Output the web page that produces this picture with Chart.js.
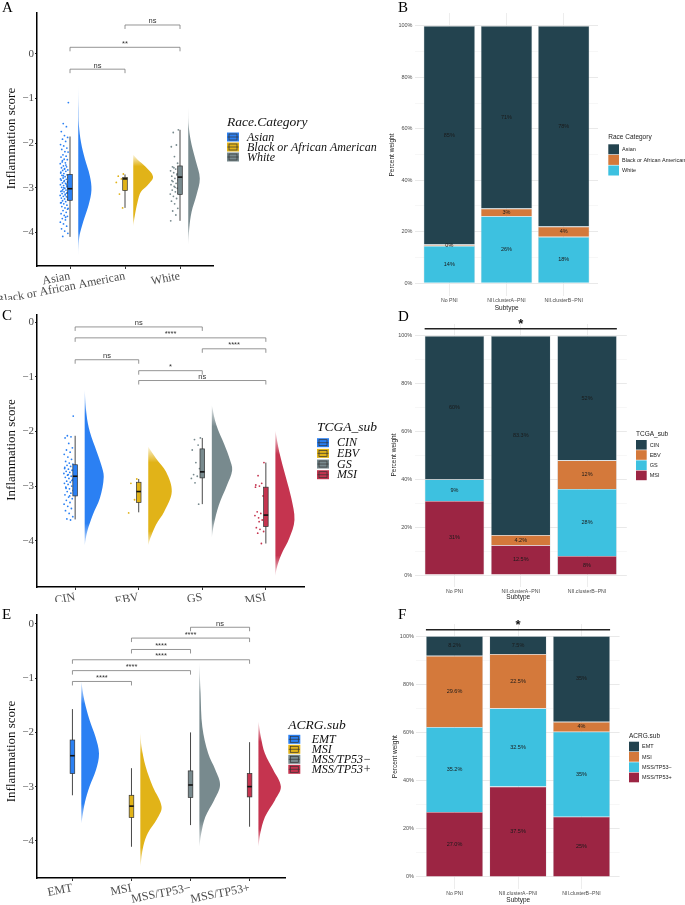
<!DOCTYPE html>
<html>
<head>
<meta charset="utf-8">
<script src="https://cdn.jsdelivr.net/npm/chart.js@4.4.0/dist/chart.umd.min.js"></script>
<style>
  body { margin: 0; background: #fff; }
  #wrap { position: relative; width: 685px; height: 905px; overflow: hidden; background: #fff; }
  canvas { position: absolute; }
</style>
</head>
<body>
<div id="wrap">
  <canvas id="chartA" width="400" height="300" style="left:0px;top:0px"></canvas>
  <canvas id="chartC" width="400" height="302" style="left:0px;top:300px"></canvas>
  <canvas id="chartE" width="400" height="305" style="left:0px;top:600px"></canvas>
  <canvas id="chartB" width="340" height="315" style="left:345px;top:0px"></canvas>
  <canvas id="chartD" width="340" height="305" style="left:345px;top:300px"></canvas>
  <canvas id="chartF" width="340" height="305" style="left:345px;top:600px"></canvas>
</div>
<script>
const SERIF = "'Liberation Serif', 'Times New Roman', serif";
const SANS = "'Liberation Sans', Arial, sans-serif";

const scoreTicks = [0, -1, -2, -3, -4];
const pctTicks = [0, 10, 20, 30, 40, 50, 60, 70, 80, 90, 100];

// A: inflammation score by race
const raceGroups = ['Asian', 'Black or African American', 'White'];
// min, q1, median, q3, max
const raceBox = [
  [-4.10, -3.28, -3.02, -2.70, -1.85],
  [-3.45, -3.06, -2.80, -2.77, -2.70],
  [-3.74, -3.15, -2.76, -2.51, -1.70]
];
// [score, half-violin width]
const raceViolins = [
  [[-0.70, 0], [-1.2, 0.005], [-1.6, 0.012], [-1.98, 0.05], [-2.35, 0.12], [-2.73, 0.21], [-3.05, 0.24], [-3.38, 0.19], [-3.76, 0.09], [-4.06, 0.025], [-4.3, 0.006], [-4.51, 0]],
  [[-2.26, 0], [-2.37, 0.08], [-2.52, 0.22], [-2.75, 0.36], [-2.94, 0.26], [-3.09, 0.14], [-3.31, 0.08], [-3.61, 0.03], [-3.86, 0]],
  [[-1.17, 0], [-1.66, 0.012], [-2.03, 0.06], [-2.41, 0.14], [-2.79, 0.21], [-3.16, 0.15], [-3.54, 0.06], [-3.91, 0.018], [-4.28, 0]]
];
const racePoints = [
  [-1.09, -1.56, -1.63, -1.74, -1.83, -1.87, -1.91, -1.96, -2.03, -2.06, -2.11, -2.14, -2.19, -2.2, -2.26, -2.29, -2.31, -2.36, -2.37, -2.42,
   -2.44, -2.46, -2.51, -2.53, -2.55, -2.57, -2.6, -2.61, -2.63, -2.67, -2.68, -2.71, -2.72, -2.75, -2.77, -2.78, -2.81, -2.83, -2.84, -2.87,
   -2.89, -2.9, -2.93, -2.95, -2.96, -2.99, -3.01, -3.02, -3.04, -3.05, -3.08, -3.09, -3.11, -3.13, -3.14, -3.17, -3.19, -3.2, -3.23, -3.25,
   -3.27, -3.29, -3.31, -3.34, -3.36, -3.39, -3.42, -3.45, -3.46, -3.51, -3.55, -3.58, -3.62, -3.64, -3.69, -3.72, -3.77, -3.81, -3.86, -3.92,
   -3.97, -4.02, -4.09, -2.49, -2.65, -2.86, -2.98, -3.07, -3.16, -3.22, -2.73, -2.92, -3.33, -2.58, -3.48, -2.39, -3.66, -2.8, -3.0, -3.12],
  [-2.69, -2.74, -2.80, -2.88, -3.14, -3.45],
  [-1.70, -1.76, -2.04, -2.08, -2.30, -2.45, -2.53, -2.58, -2.62, -2.66, -2.71, -2.74, -2.79, -2.82, -2.86, -2.90, -2.93, -2.97, -3.01, -3.05,
   -3.09, -3.14, -3.19, -3.24, -3.30, -3.36, -3.46, -3.52, -3.61, -3.74, -2.55, -2.69, -2.84, -2.99, -3.12]
];
// [group a, group b, bracket level, label]
const raceSig = [[1, 2, -0.34, 'ns'], [1, 3, 0.15, '**'], [2, 3, 0.65, 'ns']];

// C: inflammation score by TCGA subtype
const tcgaGroups = ['CIN', 'EBV', 'GS', 'MSI'];
const tcgaBox = [
  [-3.61, -3.18, -2.82, -2.61, -2.08],
  [-3.48, -3.30, -3.10, -2.93, -2.87],
  [-3.33, -2.85, -2.74, -2.32, -2.12],
  [-4.05, -3.74, -3.53, -3.02, -2.57]
];
const tcgaViolins = [
  [[-1.24, 0], [-1.7, 0.03], [-2.0, 0.08], [-2.37, 0.19], [-2.61, 0.26], [-2.83, 0.30], [-3.22, 0.24], [-3.52, 0.13], [-3.83, 0.04], [-4.08, 0]],
  [[-2.28, 0], [-2.49, 0.12], [-2.74, 0.28], [-3.10, 0.37], [-3.47, 0.25], [-3.71, 0.12], [-3.96, 0.03], [-4.08, 0]],
  [[-1.52, 0], [-1.88, 0.07], [-2.25, 0.20], [-2.5, 0.28], [-2.71, 0.32], [-2.98, 0.24], [-3.35, 0.11], [-3.71, 0.03], [-3.94, 0]],
  [[-1.99, 0], [-2.37, 0.06], [-2.86, 0.17], [-3.22, 0.25], [-3.62, 0.30], [-3.95, 0.22], [-4.26, 0.09], [-4.5, 0.02], [-4.64, 0]]
];
const tcgaPoints = [
  [-1.72, -2.08, -2.1, -2.12, -2.22, -2.3, -2.34, -2.38, -2.42, -2.47, -2.51, -2.55, -2.58, -2.6, -2.62, -2.64, -2.66, -2.69, -2.71, -2.73,
   -2.75, -2.77, -2.8, -2.82, -2.84, -2.86, -2.88, -2.91, -2.93, -2.95, -2.97, -3.0, -3.02, -3.05, -3.08, -3.1, -3.13, -3.16, -3.2, -3.23,
   -3.26, -3.3, -3.33, -3.37, -3.41, -3.45, -3.5, -3.56, -3.6, -3.62, -2.68, -2.79, -2.9, -3.04, -3.18],
  [-2.87, -2.95, -3.25, -3.49],
  [-2.12, -2.15, -2.25, -2.34, -2.57, -2.68, -2.79, -2.82, -2.86, -2.94, -3.33],
  [-2.57, -2.81, -2.95, -2.98, -3.0, -3.18, -3.47, -3.5, -3.54, -3.58, -3.62, -3.76, -3.79, -3.83, -3.86, -4.05, -3.02, -3.65]
];
const tcgaSig = [[1, 3, -0.09, 'ns'], [1, 4, -0.29, '****'], [3, 4, -0.49, '****'], [1, 2, -0.69, 'ns'], [2, 3, -0.89, '*'], [2, 4, -1.07, 'ns']];

// E: inflammation score by ACRG subtype
const acrgGroups = ['EMT', 'MSI', 'MSS/TP53\u2212', 'MSS/TP53+'];
const acrgBox = [
  [-3.16, -2.76, -2.43, -2.14, -1.57],
  [-4.11, -3.57, -3.36, -3.16, -2.66],
  [-3.71, -3.20, -2.97, -2.71, -2.00],
  [-3.74, -3.19, -3.00, -2.76, -2.18]
];
const acrgViolins = [
  [[-1.06, 0], [-1.40, 0.05], [-1.77, 0.14], [-2.08, 0.24], [-2.39, 0.30], [-2.69, 0.25], [-3.0, 0.14], [-3.3, 0.06], [-3.55, 0.02], [-3.68, 0]],
  [[-2.0, 0], [-2.26, 0.02], [-2.63, 0.09], [-3.0, 0.21], [-3.37, 0.36], [-3.6, 0.28], [-3.85, 0.13], [-4.1, 0.05], [-4.47, 0]],
  [[-0.71, 0], [-1.28, 0.02], [-1.9, 0.05], [-2.39, 0.15], [-2.69, 0.27], [-2.97, 0.35], [-3.25, 0.25], [-3.56, 0.10], [-3.87, 0.03], [-4.11, 0]],
  [[-1.80, 0], [-2.08, 0.04], [-2.39, 0.11], [-2.69, 0.25], [-3.0, 0.38], [-3.25, 0.28], [-3.56, 0.11], [-3.87, 0.03], [-4.11, 0]]
];
const acrgSig = [[3, 4, -0.06, 'ns'], [2, 4, -0.26, '****'], [2, 3, -0.47, '****'], [1, 4, -0.66, '****'], [1, 3, -0.86, '****'], [1, 2, -1.06, '****']];

// B, D, F: percent of each subtype
const subtypes = ['No PNI', 'NII.clusterA\u2212PNI', 'NII.clusterB\u2212PNI'];
const raceCats = ['Asian', 'Black or African American', 'White'];
const raceShare = [[85, 71, 78], [0.5, 3, 4], [14.5, 26, 18]];
const raceShareText = [['85%', '71%', '78%'], ['0%', '3%', '4%'], ['14%', '26%', '18%']];

const tcgaCats = ['CIN', 'EBV', 'GS', 'MSI'];
const tcgaShare = [[60, 83.3, 52], [0, 4.2, 12], [9, 0, 28], [31, 12.5, 8]];
const tcgaShareText = [['60%', '83.3%', '52%'], ['', '4.2%', '12%'], ['9%', '', '28%'], ['31%', '12.5%', '8%']];
const tcgaOverall = [103, '*'];

const acrgCats = ['EMT', 'MSI', 'MSS/TP53\u2212', 'MSS/TP53+'];
const acrgShare = [[8.2, 7.5, 35.6], [29.6, 22.5, 4.1], [35.2, 32.5, 35.3], [27.0, 37.5, 25]];
const acrgShareText = [['8.2%', '7.5%', '35%'], ['29.6%', '22.5%', '4%'], ['35.2%', '32.5%', '35%'], ['27.0%', '37.5%', '25%']];
const acrgOverall = [102.6, '*'];

const rainColors = ['#2B80F3', '#E1B318', '#788A8E', '#C5344F'];
const barColors = ['#23434F', '#D4793B', '#3DC1E0', '#9C2543'];

function fade(hex, a) {
  const n = parseInt(hex.slice(1), 16);
  return 'rgba(' + (n >> 16) + ',' + ((n >> 8) & 255) + ',' + (n & 255) + ',' + a + ')';
}

// ---------- small drawing plugins ----------
function textPlugin(items) {
  return {
    id: 'texts',
    afterDraw(chart) {
      const ctx = chart.ctx;
      items.forEach(d => {
        ctx.save();
        ctx.font = d.font;
        ctx.fillStyle = d.color || '#000';
        ctx.textAlign = d.align || 'left';
        ctx.textBaseline = d.base || 'middle';
        ctx.translate(d.x, d.y);
        if (d.rot) ctx.rotate(d.rot);
        ctx.fillText(d.text, 0, 0);
        ctx.restore();
      });
    }
  };
}

function boxPlugin(stats, colors) {
  return {
    id: 'boxes',
    afterDatasetsDraw(chart) {
      const { ctx, scales: { x, y } } = chart;
      stats.forEach((s, i) => {
        const cx = x.getPixelForValue(i + 1);
        const top = y.getPixelForValue(s[3]);
        const bot = y.getPixelForValue(s[1]);
        ctx.save();
        ctx.strokeStyle = '#333';
        ctx.lineWidth = 0.9;
        ctx.beginPath();
        ctx.moveTo(cx, y.getPixelForValue(s[4]));
        ctx.lineTo(cx, y.getPixelForValue(s[0]));
        ctx.stroke();
        ctx.fillStyle = colors[i];
        ctx.fillRect(cx - 2.3, top, 4.6, bot - top);
        ctx.lineWidth = 0.7;
        ctx.strokeRect(cx - 2.3, top, 4.6, bot - top);
        ctx.strokeStyle = '#111';
        ctx.lineWidth = 1.6;
        const m = y.getPixelForValue(s[2]);
        ctx.beginPath();
        ctx.moveTo(cx - 2.3, m);
        ctx.lineTo(cx + 2.3, m);
        ctx.stroke();
        ctx.restore();
      });
    }
  };
}

function bracketPlugin(list) {
  return {
    id: 'brackets',
    afterDatasetsDraw(chart) {
      const { ctx, scales: { x, y } } = chart;
      list.forEach(([a, b, lv, lab]) => {
        const x1 = x.getPixelForValue(a), x2 = x.getPixelForValue(b), yy = y.getPixelForValue(lv);
        ctx.save();
        ctx.strokeStyle = '#7a7a7a';
        ctx.lineWidth = 0.8;
        ctx.beginPath();
        ctx.moveTo(x1, yy + 4);
        ctx.lineTo(x1, yy);
        ctx.lineTo(x2, yy);
        ctx.lineTo(x2, yy + 4);
        ctx.stroke();
        ctx.fillStyle = '#333';
        ctx.font = '7.5px ' + SANS;
        ctx.textAlign = 'center';
        ctx.textBaseline = 'alphabetic';
        ctx.fillText(lab, (x1 + x2) / 2, yy - 1.5);
        ctx.restore();
      });
    }
  };
}

function boxLegendPlugin(title, labels, colors, L) {
  return {
    id: 'boxLegend',
    afterDraw(chart) {
      const ctx = chart.ctx;
      ctx.save();
      ctx.fillStyle = '#111';
      ctx.textBaseline = 'middle';
      ctx.font = 'italic 13.5px ' + SERIF;
      ctx.fillText(title, L.x, L.titleY);
      ctx.font = 'italic 12px ' + SERIF;
      labels.forEach((lab, i) => {
        const cy = L.y + i * L.step;
        ctx.fillStyle = colors[i];
        ctx.fillRect(L.x, cy - 4.5, L.w, 9);
        ctx.strokeStyle = '#333';
        ctx.lineWidth = 0.7;
        ctx.strokeRect(L.x + 2, cy - 3, L.w - 4, 6);
        ctx.beginPath();
        ctx.moveTo(L.x + 0.5, cy);
        ctx.lineTo(L.x + L.w - 0.5, cy);
        ctx.stroke();
        ctx.fillStyle = '#111';
        ctx.fillText(lab, L.tx, cy + 0.5);
      });
      ctx.restore();
    }
  };
}

function squareLegendPlugin(title, labels, L) {
  return {
    id: 'sqLegend',
    afterDraw(chart) {
      const ctx = chart.ctx;
      ctx.save();
      ctx.textBaseline = 'middle';
      ctx.fillStyle = '#222';
      ctx.font = '6.5px ' + SANS;
      ctx.fillText(title, L.x, L.titleY);
      ctx.font = '5.5px ' + SANS;
      labels.forEach((lab, i) => {
        const top = L.y + i * L.step;
        ctx.fillStyle = barColors[i];
        ctx.fillRect(L.x, top, L.w, L.step - 0.6);
        ctx.fillStyle = '#222';
        ctx.fillText(lab, L.x + L.w + 3, top + L.step / 2);
      });
      ctx.restore();
    }
  };
}

function segLabelPlugin(text) {
  return {
    id: 'segLabels',
    afterDatasetsDraw(chart) {
      const ctx = chart.ctx;
      const n = text.length;
      ctx.save();
      ctx.fillStyle = '#1a1a1a';
      ctx.font = '5.5px ' + SANS;
      ctx.textAlign = 'center';
      ctx.textBaseline = 'middle';
      chart.data.datasets.forEach((ds, di) => {
        const k = n - 1 - di;
        chart.getDatasetMeta(di).data.forEach((bar, j) => {
          const t = text[k][j];
          if (t) ctx.fillText(t, bar.x, (bar.y + bar.base) / 2);
        });
      });
      ctx.restore();
    }
  };
}

function overallPlugin(sig) {
  return {
    id: 'overall',
    afterDraw(chart) {
      const { ctx, scales: { x, y } } = chart;
      const yy = y.getPixelForValue(sig[0]);
      ctx.save();
      ctx.strokeStyle = '#222';
      ctx.lineWidth = 1.4;
      ctx.beginPath();
      ctx.moveTo(x.getPixelForValue(0.55), yy);
      ctx.lineTo(x.getPixelForValue(3.45), yy);
      ctx.stroke();
      ctx.fillStyle = '#111';
      ctx.font = 'bold 13px ' + SANS;
      ctx.textAlign = 'center';
      ctx.textBaseline = 'alphabetic';
      ctx.fillText(sig[1], x.getPixelForValue(2), yy - 1);
      ctx.restore();
    }
  };
}

// ---------- raincloud panels ----------
function scoreChart(id, groups, box, violins, points, sig, P) {
  const datasets = [];
  violins.forEach((v, i) => {
    const col = rainColors[i];
    datasets.push({
      type: 'line',
      data: v.map(p => ({ x: i + 1 + 0.15 + p[1], y: p[0] })),
      fill: 'shape',
      // tails of the half violin fade out like the original
      backgroundColor: c => {
        const ch = c.chart;
        if (!ch.chartArea || !ch.scales.y) return col;
        const y0 = ch.scales.y.getPixelForValue(v[0][0]);
        const y1 = ch.scales.y.getPixelForValue(v[v.length - 1][0]);
        const g = ch.ctx.createLinearGradient(0, y0, 0, y1);
        g.addColorStop(0, fade(col, 0.15));
        g.addColorStop(0.16, col);
        g.addColorStop(0.86, col);
        g.addColorStop(1, fade(col, 0.2));
        return g;
      },
      borderColor: 'rgba(0,0,0,0)',
      borderWidth: 0.1,
      pointRadius: 0,
      tension: 0.35
    });
  });
  points.forEach((pts, i) => {
    datasets.push({
      type: 'scatter',
      data: pts.map((v, k) => ({ x: i + 1 - 0.03 - 0.15 * ((k * 0.618034) % 1), y: v })),
      backgroundColor: rainColors[i],
      borderWidth: 0,
      pointRadius: 0.9
    });
  });
  const plugins = [
    boxPlugin(box, rainColors),
    bracketPlugin(sig),
    boxLegendPlugin(P.legendTitle, groups, rainColors, P.legend),
    textPlugin([
      { text: P.letter, x: 2, y: P.letterY, font: '15px ' + SERIF, base: 'alphabetic' },
      { text: 'Inflammation score', x: 12, y: P.titleY, font: '13px ' + SERIF, align: 'center', rot: -Math.PI / 2, color: '#111' }
    ])
  ];
  return new Chart(document.getElementById(id), {
    type: 'scatter',
    data: { datasets },
    plugins,
    options: {
      responsive: false,
      animation: false,
      layout: { padding: { left: 0, top: P.top, right: P.right, bottom: 0 } },
      plugins: { legend: { display: false }, tooltip: { enabled: false } },
      scales: {
        x: {
          type: 'linear', min: 0.4, max: groups.length + 0.6, offset: false,
          afterBuildTicks: s => { s.ticks = groups.map((g, i) => ({ value: i + 1 })); },
          afterFit: s => { s.height = P.xh; },
          ticks: {
            callback: v => groups[v - 1],
            font: { family: SERIF, size: 12 }, color: '#4d4d4d',
            minRotation: 11, maxRotation: 11, autoSkip: false, padding: 0
          },
          grid: { drawOnChartArea: false, color: '#333', tickLength: 3 },
          border: { color: '#000', width: 1.5 }
        },
        y: {
          type: 'linear', min: P.yMin, max: P.yMax,
          afterBuildTicks: s => { s.ticks = scoreTicks.map(v => ({ value: v })); },
          afterFit: s => { s.width = 37; },
          ticks: {
            callback: v => String(v).replace('-', '\u2212'),
            font: { family: SERIF, size: 11 }, color: '#4d4d4d', padding: 1
          },
          grid: { drawOnChartArea: false, color: '#333', tickLength: 2 },
          border: { color: '#000', width: 1.5 }
        }
      }
    }
  });
}

// ---------- stacked percent panels ----------
function shareChart(id, cats, share, text, P, overall) {
  const datasets = cats.map((c, k) => ({
    label: c,
    data: share[k].map((v, j) => ({ x: j + 1, y: v })),
    backgroundColor: barColors[k],
    borderColor: 'rgba(205,212,215,0.9)',
    borderWidth: 0.6,
    barPercentage: 0.9,
    categoryPercentage: 1
  })).reverse();
  const plugins = [
    segLabelPlugin(text),
    squareLegendPlugin(P.legendTitle, cats, P.legend),
    textPlugin([
      { text: P.letter, x: 53, y: P.letterY, font: '15px ' + SERIF, base: 'alphabetic' },
      { text: 'Percent weight', x: P.yTitleX, y: P.yTitleY, font: '6.5px ' + SANS, align: 'center', rot: -Math.PI / 2, color: '#222' },
      { text: 'Subtype', x: P.xTitleX, y: P.xTitleY, font: '6.5px ' + SANS, align: 'center', color: '#222' }
    ])
  ];
  if (overall) plugins.push(overallPlugin(overall));
  return new Chart(document.getElementById(id), {
    type: 'bar',
    data: { datasets },
    plugins,
    options: {
      responsive: false,
      animation: false,
      layout: { padding: { left: 0, top: P.top, right: P.right, bottom: 0 } },
      plugins: { legend: { display: false }, tooltip: { enabled: false } },
      scales: {
        x: {
          type: 'linear', stacked: true, min: 0.4, max: 3.6, offset: false,
          afterBuildTicks: s => { s.ticks = subtypes.map((t, j) => ({ value: j + 1 })); },
          afterFit: s => { s.height = P.xh; },
          ticks: {
            callback: v => subtypes[v - 1],
            font: { family: SANS, size: 5.2 }, color: '#4d4d4d',
            padding: 1.5, minRotation: 0, maxRotation: 0, autoSkip: false
          },
          grid: { color: '#ebebeb', lineWidth: 0.9, drawTicks: false, offset: false },
          border: { display: false }
        },
        y: {
          type: 'linear', stacked: true, min: -5, max: 105,
          afterBuildTicks: s => { s.ticks = pctTicks.map(v => ({ value: v })); },
          afterFit: s => { s.width = P.left; },
          ticks: {
            callback: v => (v % 20 === 0 ? v + '%' : ''),
            font: { family: SANS, size: 5.5 }, color: '#4d4d4d', padding: 2.5
          },
          grid: {
            color: c => (c.tick && c.tick.value % 20 === 0 ? '#e6e6e6' : '#f2f2f2'),
            lineWidth: c => (c.tick && c.tick.value % 20 === 0 ? 0.9 : 0.6),
            drawTicks: false
          },
          border: { display: false }
        }
      }
    }
  });
}

scoreChart('chartA', raceGroups, raceBox, raceViolins, racePoints, raceSig, {
  letter: 'A', letterY: 12, titleY: 138.5, top: 13, right: 187, xh: 34, yMin: -4.753, yMax: 0.919,
  legendTitle: 'Race.Category', legend: { x: 227, titleY: 122, y: 137, step: 10, w: 12, tx: 247 }
});
scoreChart('chartC', tcgaGroups, tcgaBox, tcgaViolins, tcgaPoints, tcgaSig, {
  letter: 'C', letterY: 20, titleY: 150, top: 15, right: 96, xh: 15, yMin: -4.845, yMax: 0.128,
  legendTitle: 'TCGA_sub', legend: { x: 317, titleY: 127.7, y: 142.7, step: 10.67, w: 12, tx: 337 }
});
scoreChart('chartE', acrgGroups, acrgBox, acrgViolins, [], acrgSig, {
  letter: 'E', letterY: 19, titleY: 151.5, top: 15, right: 115, xh: 27, yMin: -4.686, yMax: 0.166,
  legendTitle: 'ACRG.sub', legend: { x: 288.3, titleY: 125, y: 139.3, step: 10, w: 12, tx: 311.7 }
});

shareChart('chartB', raceCats, raceShare, raceShareText, {
  letter: 'B', letterY: 12, top: 13, right: 87, left: 70, xh: 19,
  yTitleX: 47.7, yTitleY: 155, xTitleX: 161.7, xTitleY: 308,
  legendTitle: 'Race Category', legend: { x: 263.3, titleY: 137.7, y: 144.3, step: 10.6, w: 10.7 }
});
shareChart('chartD', tcgaCats, tcgaShare, tcgaShareText, {
  letter: 'D', letterY: 21, top: 24, right: 58.2, left: 69.7, xh: 18,
  yTitleX: 49.3, yTitleY: 155, xTitleX: 173.3, xTitleY: 297.7,
  legendTitle: 'TCGA_sub', legend: { x: 291, titleY: 134.3, y: 140, step: 10.2, w: 10.7 }
}, tcgaOverall);
shareChart('chartF', acrgCats, acrgShare, acrgShareText, {
  letter: 'F', letterY: 19, top: 24, right: 65.4, left: 71.4, xh: 16,
  yTitleX: 50.7, yTitleY: 156.7, xTitleX: 173.3, xTitleY: 300,
  legendTitle: 'ACRG.sub', legend: { x: 284, titleY: 136, y: 141.7, step: 10.3, w: 10 }
}, acrgOverall);
</script>
</body>
</html>
